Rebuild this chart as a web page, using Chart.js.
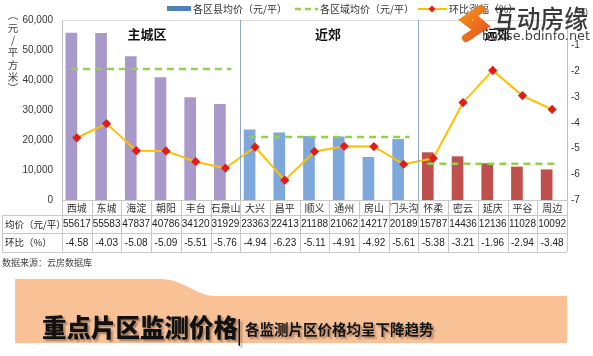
<!DOCTYPE html>
<html><head><meta charset="utf-8">
<script src="https://cdn.jsdelivr.net/npm/chart.js@4"></script>
<style>
html,body{margin:0;padding:0;background:#fff;}
#wrap{position:relative;width:593px;height:356px;overflow:hidden;}
#c{position:absolute;left:0;top:0;}
#banner{position:absolute;left:0;top:0;width:593px;height:356px;pointer-events:none;}
.bt{position:absolute;font-family:"Noto Sans CJK SC",sans-serif;font-weight:900;color:#111;white-space:nowrap;text-shadow:2px 2px 2px rgba(0,0,0,0.35);}
</style></head>
<body><div id="wrap">
<canvas id="c" width="593" height="356"></canvas>
<svg id="banner" width="593" height="356"><path d="M15,279 L160,279 C185,279 195,296 215,296 L567,296 L567,343 L15,343 Z" fill="#F9C196"/></svg>
<div class="bt" style="left:42px;top:309px;font-size:24.5px;">重点片区监测价格</div>
<div class="bt" style="left:236px;top:311px;font-size:24px;font-weight:400;">|</div>
<div class="bt" style="left:245px;top:318px;font-size:14.5px;font-weight:700;">各监测片区价格均呈下降趋势</div>
</div>
<script>
const categories = ["西城","东城","海淀","朝阳","丰台","石景山","大兴","昌平","顺义","通州","房山","门头沟","怀柔","密云","延庆","平谷","周边"];
const prices = [55617,55583,47837,40786,34120,31929,23363,22413,21188,21062,14217,20189,15787,14436,12136,11028,10092];
const ratios = [-4.58,-4.03,-5.08,-5.09,-5.51,-5.76,-4.94,-6.23,-5.11,-4.91,-4.92,-5.61,-5.38,-3.21,-1.96,-2.94,-3.48];
const regionNames = ["主城区","近郊","远郊"];
const regionStart = [0,6,12];
const regionEnd = [5,11,16];
const regionAvg = [43700,21000,12100];
const leftTicks = [0,10000,20000,30000,40000,50000,60000];
const rightTicks = [-7,-6,-5,-4,-3,-2,-1,0];
const legendLabels = ["各区县均价（元/平）","各区域均价（元/平）","环比涨幅（%）"];
const rowLabels = ["均价（元/平）","环比（%）"];
const sourceText = "数据来源：云房数据库";
const leftTitle = ["︵","元","/","平","方","米","︶"];

const regionColors = ["#A899CA","#7EA7DC","#C0504D"];
const barColors = categories.map((c,i)=> i<=regionEnd[0]?regionColors[0]:(i<=regionEnd[1]?regionColors[1]:regionColors[2]));
const FONT = "'Liberation Sans','Noto Sans CJK SC',sans-serif";
const CJK = "'Noto Sans CJK SC',sans-serif";

const datasets = [
 {type:'line',label:legendLabels[2],data:ratios,yAxisID:'y1',xAxisID:'x',borderColor:'#FFC000',borderWidth:2,
  pointStyle:'rectRot',pointRadius:3.2,pointBackgroundColor:'#E41B17',pointBorderColor:'#E41B17',order:0,tension:0},
];
regionAvg.forEach((v,k)=>{
 datasets.push({type:'line',label:legendLabels[1],data:[{x:regionStart[k]-0.2,y:v},{x:regionEnd[k]+0.2,y:v}],
  xAxisID:'xl',yAxisID:'y',borderColor:'#92D050',borderWidth:2.5,borderDash:[7,5],pointRadius:0,order:1});
});
datasets.push({type:'bar',label:legendLabels[0],data:prices,backgroundColor:barColors,yAxisID:'y',xAxisID:'x',
  barThickness:11,order:2});

const deco = {
 id:'deco',
 afterDraw(chart){
  const ctx=chart.ctx, a=chart.chartArea, xs=chart.scales.x;
  const colW=(a.right-a.left)/categories.length;
  ctx.save();
  ctx.strokeStyle='#D9D9D9';ctx.lineWidth=1;
  ctx.beginPath();ctx.moveTo(a.left,a.top+0.5);ctx.lineTo(a.right,a.top+0.5);ctx.stroke();
  ctx.strokeStyle='#8FA8C8';
  [regionEnd[0],regionEnd[1]].forEach(e=>{
    const x=Math.round(xs.getPixelForValue(e)+colW/2)+0.5;
    ctx.beginPath();ctx.moveTo(x,a.top);ctx.lineTo(x,a.bottom);ctx.stroke();
  });
  ctx.fillStyle='#111';ctx.font="bold 13px "+CJK;ctx.textAlign='center';ctx.textBaseline='middle';
  const lx=[147,328,497];
  regionNames.forEach((n,k)=>ctx.fillText(n,lx[k],34));
  const y0=a.bottom, y1=215, y2=233, y3=252, tl=2;
  ctx.strokeStyle='#C8C8C8';ctx.lineWidth=1;
  ctx.beginPath();
  ctx.moveTo(a.left,y0+0.5);ctx.lineTo(a.right,y0+0.5);
  [y1,y2,y3].forEach(y=>{ctx.moveTo(tl,y+0.5);ctx.lineTo(a.right,y+0.5);});
  ctx.moveTo(tl+0.5,y1);ctx.lineTo(tl+0.5,y3);
  for(let i=0;i<=categories.length;i++){
    const x=Math.round(a.left+i*colW)+0.5;
    ctx.moveTo(x,y0);ctx.lineTo(x,y3);
  }
  ctx.stroke();
  ctx.fillStyle='#222';ctx.font="10px "+FONT;ctx.textAlign='center';ctx.textBaseline='middle';
  categories.forEach((c,i)=>{
    const x=xs.getPixelForValue(i);
    ctx.fillText(String(prices[i]),x,(y1+y2)/2+0.5);
    ctx.fillText(ratios[i].toFixed(2),x,(y2+y3)/2+0.5);
  });
  ctx.textAlign='left';ctx.font="9.5px "+CJK;
  ctx.fillText(rowLabels[0],tl+3,(y1+y2)/2);
  ctx.fillText(rowLabels[1],tl+3,(y2+y3)/2);
  ctx.fillStyle='#444';ctx.font="9px "+CJK;
  ctx.fillText(sourceText,2,263);
  ctx.fillStyle='#444';ctx.font="10.5px "+CJK;ctx.textAlign='center';
  const ty=[15,28,40,52,65,77,88];
  leftTitle.forEach((ch,k)=>ctx.fillText(ch,13,ty[k]));
  ctx.font="9px "+FONT;ctx.fillText("(%)",581,13);
  ctx.textAlign='left';ctx.font="10px "+CJK;
  ctx.fillStyle='#4F81BD';ctx.fillRect(167,6,24,5);
  ctx.fillStyle='#333';ctx.fillText(legendLabels[0],193,9);
  ctx.strokeStyle='#92D050';ctx.lineWidth=2.5;ctx.setLineDash([6,4]);
  ctx.beginPath();ctx.moveTo(295,9);ctx.lineTo(318,9);ctx.stroke();ctx.setLineDash([]);
  ctx.fillText(legendLabels[1],320,9);
  ctx.strokeStyle='#FFC000';ctx.lineWidth=2;
  ctx.beginPath();ctx.moveTo(418,9);ctx.lineTo(447,9);ctx.stroke();
  ctx.fillStyle='#E41B17';ctx.beginPath();ctx.moveTo(432,5.5);ctx.lineTo(435.5,9);ctx.lineTo(432,12.5);ctx.lineTo(428.5,9);ctx.closePath();ctx.fill();
  ctx.fillStyle='#333';ctx.fillText(legendLabels[2],449,9);
  const g=ctx.createLinearGradient(455,5,492,42);g.addColorStop(0,'#F7A11A');g.addColorStop(1,'#E5461F');
  ctx.strokeStyle=g;ctx.lineWidth=8;ctx.lineCap='round';
  ctx.beginPath();ctx.moveTo(481,9);ctx.lineTo(465,20);ctx.lineTo(473,26);ctx.stroke();
  ctx.beginPath();ctx.moveTo(466,38);ctx.lineTo(484,26);ctx.lineTo(477,20);ctx.stroke();
  ctx.fillStyle='#3A3A3A';ctx.font="500 25px "+CJK;ctx.textAlign='left';ctx.textBaseline='middle';
  ctx.fillText("互动房缘",493,18,95);
  ctx.fillStyle='#444';ctx.font="13px 'DejaVu Sans',sans-serif";
  ctx.fillText("house.bdinfo.net",482,37,108);
  ctx.restore();
 }
};

new Chart(document.getElementById('c'),{
 data:{labels:categories,datasets:datasets},
 options:{
  responsive:false,animation:false,
  layout:{padding:{top:20,left:0,right:0,bottom:142}},
  plugins:{legend:{display:false},tooltip:{enabled:false}},
  scales:{
   x:{type:'category',offset:true,grid:{display:false,drawTicks:false},border:{display:true,color:'#BFBFBF'},
      ticks:{font:{size:10,family:CJK},color:'#333',padding:2,maxRotation:0,autoSkip:false},
      afterFit(s){s.height=14;}},
   xl:{type:'linear',min:-0.5,max:16.5,display:false},
   y:{position:'left',min:0,max:60000,grid:{display:false,drawTicks:true,tickLength:3},border:{color:'#BFBFBF'},
      afterBuildTicks(s){s.ticks=leftTicks.map(v=>({value:v}));},
      ticks:{font:{size:10,family:FONT},color:'#333',padding:6,callback:v=>v.toLocaleString('en-US')},
      afterFit(s){s.width=62;}},
   y1:{position:'right',min:-7,max:0,grid:{display:false,drawTicks:true,tickLength:3},border:{color:'#BFBFBF'},
      afterBuildTicks(s){s.ticks=rightTicks.map(v=>({value:v}));},
      ticks:{font:{size:10,family:FONT},color:'#333',padding:1,callback:v=>v===0?'':String(v)},
      afterFit(s){s.width=26;}}
  }
 },
 plugins:[deco]
});
</script>
</body></html>
